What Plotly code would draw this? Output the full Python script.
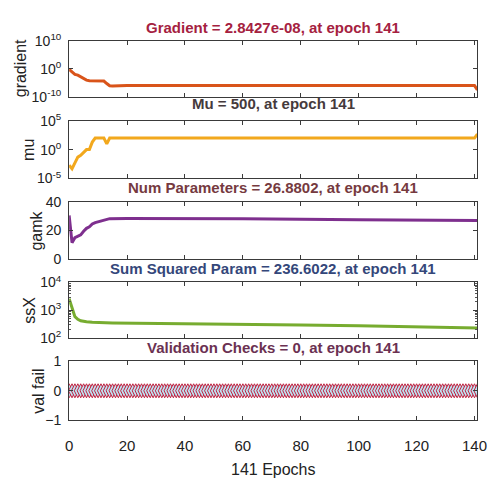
import plotly.graph_objects as go

# ---- training record (epoch, value) ----
grad_epochs = [0, 1, 2, 3, 4, 5, 6, 7, 8, 10, 12, 13, 14, 15, 16, 20, 40, 60, 80, 100, 120, 139, 140, 141]
grad_values = [0.6, 0.05, 0.01, 0.005, 1e-3, 2e-4, 8e-5, 5e-5, 5e-5, 4e-5, 4e-5, 5e-6, 8e-7,
               6e-7, 7e-7, 9e-7, 1e-6, 1.1e-6, 1.1e-6, 1.1e-6, 1e-6, 1e-6, 9e-7, 2.8427e-08]

mu_epochs = [0, 1, 2, 3, 4, 5, 6, 7, 8, 9, 12, 13, 14, 140, 141]
mu_values = [2e-3, 5e-4, 5e-3, 0.05, 0.1, 0.3, 1, 1, 20, 100, 100, 10, 100, 100, 500]

gamk_epochs = [0, 1, 2, 3, 4, 5, 6, 7, 8, 9, 11, 13, 14, 20, 60, 100, 140, 141]
gamk_values = [30.4, 11.6, 15, 16, 17, 19.5, 21.5, 22.5, 24.5, 25.5, 26.4, 27.5, 28.2, 28.3,
               28.2, 27.5, 26.9, 26.8802]

ssx_epochs = [0, 1, 2, 3, 4, 6, 8, 15, 30, 45, 60, 80, 100, 120, 140, 141]
ssx_values = [2600, 1170, 600, 480, 425, 390, 375, 355, 345, 335, 320, 300, 280, 262, 245, 236.6022]

val_epochs = list(range(142))
val_values = [0] * 142

x_ticks = [0, 20, 40, 60, 80, 100, 120, 140]
ssx_minor_ticks = [200, 300, 400, 500, 600, 700, 800, 900,
                   2000, 3000, 4000, 5000, 6000, 7000, 8000, 9000]

titles = [
    ("Gradient = 2.8427e-08, at epoch 141", "#a5213f"),
    ("Mu = 500, at epoch 141", "#453a3c"),
    ("Num Parameters = 26.8802, at epoch 141", "#763a3f"),
    ("Sum Squared Param = 236.6022, at epoch 141", "#34477a"),
    ("Validation Checks = 0, at epoch 141", "#6b3152"),
]
ylabels = ["gradient", "mu", "gamk", "ssX", "val fail"]

FONT = "Liberation Sans, Arial, sans-serif"
W, H = 501, 484
X0, X1 = 67, 487
panels_px = [(32, 90), (115, 175), (199, 259), (283, 341), (365, 426)]
title_y_px = [18, 97, 184, 268, 351]
ylabel_x_px = [17, 25, 33, 26, 36]

fig = go.Figure()

line_w = 3
fig.add_trace(go.Scatter(x=grad_epochs, y=grad_values, mode="lines",
                         line=dict(color="#d9541a", width=line_w), xaxis="x", yaxis="y"))
fig.add_trace(go.Scatter(x=mu_epochs, y=mu_values, mode="lines",
                         line=dict(color="#f2a81d", width=line_w), xaxis="x2", yaxis="y2"))
fig.add_trace(go.Scatter(x=gamk_epochs, y=gamk_values, mode="lines",
                         line=dict(color="#7e2f8e", width=line_w), xaxis="x3", yaxis="y3"))
fig.add_trace(go.Scatter(x=ssx_epochs, y=ssx_values, mode="lines",
                         line=dict(color="#77ac30", width=line_w), xaxis="x4", yaxis="y4"))
fig.add_trace(go.Scatter(x=val_epochs, y=val_values, mode="markers",
                         marker=dict(symbol="diamond-tall", size=10, color="#bfe3f2",
                                     line=dict(color="#c2203e", width=1)),
                         xaxis="x5", yaxis="y5"))

axis_common = dict(showline=True, linecolor="#3a3a3a", linewidth=1, mirror="ticks",
                   ticks="inside", ticklen=4, tickcolor="#3a3a3a", showgrid=False,
                   zeroline=False, tickfont=dict(family=FONT, size=14, color="#222"))

yaxes = [
    dict(type="log", range=[-10, 10], tickvals=[1e-10, 1, 1e10],
         ticktext=["10<sup>-10</sup>", "10<sup>0</sup>", "10<sup>10</sup>"]),
    dict(type="log", range=[-5, 5], tickvals=[1e-5, 1, 1e5],
         ticktext=["10<sup>-5</sup>", "10<sup>0</sup>", "10<sup>5</sup>"]),
    dict(type="linear", range=[0, 40], tickvals=[0, 20, 40]),
    dict(type="log", range=[2, 4], tickvals=[100, 1000, 10000],
         ticktext=["10<sup>2</sup>", "10<sup>3</sup>", "10<sup>4</sup>"],
         minor=dict(ticks="inside", ticklen=2, tickcolor="#555", tickvals=ssx_minor_ticks)),
    dict(type="linear", range=[-1, 1], tickvals=[-1, 0, 1]),
]

layout = dict(width=W, height=H, margin=dict(l=0, r=0, t=0, b=0),
              paper_bgcolor="white", plot_bgcolor="white", showlegend=False,
              font=dict(family=FONT, size=14, color="#222"))

annotations = []
for i, (top, bot) in enumerate(panels_px):
    n = "" if i == 0 else str(i + 1)
    last = i == len(panels_px) - 1
    xa = dict(axis_common, domain=[X0 / W, X1 / W], range=[0, 141], tickvals=x_ticks,
              showticklabels=last, anchor="y" + n)
    if last:
        xa["tickfont"] = dict(family=FONT, size=15, color="#222")
        xa["ticklabelstandoff"] = 12
        xa["title"] = dict(text="141 Epochs", font=dict(family=FONT, size=16, color="#222"),
                           standoff=10)
    ya = dict(axis_common, **yaxes[i], domain=[1 - bot / H, 1 - top / H], anchor="x" + n,
              ticklabelstandoff=4)
    layout["xaxis" + n] = xa
    layout["yaxis" + n] = ya

    text, color = titles[i]
    annotations.append(dict(text="<b>" + text + "</b>", x=(X0 + X1) / 2 / W, y=1 - title_y_px[i] / H,
                            xref="paper", yref="paper", showarrow=False,
                            font=dict(family=FONT, size=15, color=color),
                            xanchor="center", yanchor="middle"))
    annotations.append(dict(text=ylabels[i], x=ylabel_x_px[i] / W, y=1 - (top + bot) / 2 / H,
                            xref="paper", yref="paper", showarrow=False, textangle=-90,
                            font=dict(family=FONT, size=16, color="#222"),
                            xanchor="center", yanchor="middle"))

layout["annotations"] = annotations
fig.update_layout(**layout)
fig.write_html("out.html")
